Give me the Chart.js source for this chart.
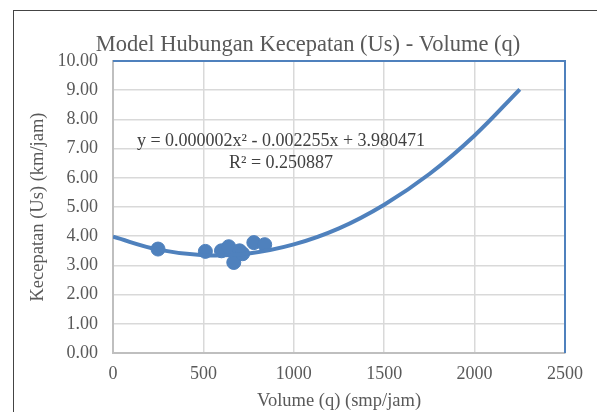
<!DOCTYPE html>
<html>
<head>
<meta charset="utf-8">
<script src="https://cdn.jsdelivr.net/npm/chart.js@4"></script>
<style>
  html, body { margin: 0; padding: 0; background: #fff; }
  #chart { display: block; }
</style>
</head>
<body>
<canvas id="chart" width="597" height="412"></canvas>
<script>
// data
const volume = [249, 511, 600, 640, 668, 700, 717, 779, 839];
const kecepatan = [3.56, 3.48, 3.50, 3.64, 3.10, 3.50, 3.40, 3.78, 3.71];

// trendline as seen on the picture
const trendX = [0, 250, 500, 750, 1000, 1250, 1500, 1750, 2000, 2250];
const trendY = [3.98, 3.54, 3.35, 3.41, 3.72, 4.27, 5.08, 6.13, 7.45, 9.03];

const titleText = 'Model Hubungan Kecepatan (Us) - Volume (q)';
const eqText = 'y = 0.000002x\u00B2 - 0.002255x + 3.980471';
const r2Text = 'R\u00B2 = 0.250887';

const blue = '#4f81bd';
const serif = '"Liberation Serif", "DejaVu Serif", serif';

const decor = {
    id: 'decor',
    beforeDraw(c) {
        const ctx = c.ctx;
        ctx.save();
        ctx.fillStyle = '#fff';
        ctx.fillRect(0, 0, c.width, c.height);
        ctx.strokeStyle = '#444';
        ctx.lineWidth = 1;
        ctx.strokeRect(13.5, 10.5, 700, 500);
        ctx.restore();
    },
    afterDraw(c) {
        const ctx = c.ctx;
        const a = c.chartArea;
        ctx.save();
        // top and right edge of plot area
        ctx.strokeStyle = blue;
        ctx.lineWidth = 2;
        ctx.beginPath();
        ctx.moveTo(a.left, a.top);
        ctx.lineTo(a.right, a.top);
        ctx.lineTo(a.right, a.bottom);
        ctx.stroke();
        // title
        ctx.fillStyle = '#595959';
        ctx.textAlign = 'center';
        ctx.textBaseline = 'middle';
        ctx.font = '22.5px ' + serif;
        ctx.fillText(titleText, 308, 45);
        // trendline label
        ctx.fillStyle = '#404040';
        ctx.font = '18px ' + serif;
        ctx.fillText(eqText, 281, 141);
        ctx.fillText(r2Text, 281, 163);
        ctx.restore();
    }
};

const tickFont = { family: serif, size: 18 };
const axisFont = { family: serif, size: 18.5 };

const chart = new Chart(document.getElementById('chart'), {
    type: 'scatter',
    data: {
        datasets: [{
            type: 'line',
            data: trendX.map((x, i) => ({ x: x, y: trendY[i] })),
            borderColor: blue,
            borderWidth: 4,
            pointRadius: 0,
            tension: 0.4,
            fill: false
        }, {
            data: volume.map((x, i) => ({ x: x, y: kecepatan[i] })),
            backgroundColor: blue,
            borderColor: blue,
            pointRadius: 7,
            pointHoverRadius: 7
        }]
    },
    options: {
        responsive: false,
        animation: false,
        devicePixelRatio: 1,
        layout: { padding: { top: 61, right: 32, bottom: 0, left: 0 } },
        plugins: { legend: { display: false }, tooltip: { enabled: false } },
        scales: {
            x: {
                type: 'linear',
                min: 0, max: 2500,
                afterFit: s => { s.height = 59; },
                ticks: { stepSize: 500, padding: 10, color: '#595959', font: tickFont, callback: v => String(v) },
                grid: { color: '#d9d9d9', lineWidth: 1.5, drawTicks: false },
                border: { color: '#bfbfbf', width: 2 },
                title: { display: true, text: 'Volume (q) (smp/jam)', color: '#595959', font: axisFont, padding: { top: 0, bottom: 0 } }
            },
            y: {
                min: 0, max: 10,
                afterFit: s => { s.width = 113; },
                ticks: { stepSize: 1, padding: 15, color: '#595959', font: tickFont, callback: v => v.toFixed(2) },
                grid: { color: '#d9d9d9', lineWidth: 1.5, drawTicks: false },
                border: { color: '#bfbfbf', width: 2 },
                title: { display: true, text: 'Kecepatan (Us) (km/jam)', color: '#595959', font: axisFont, padding: { top: 27, bottom: 0 } }
            }
        }
    },
    plugins: [decor]
});
</script>
</body>
</html>
